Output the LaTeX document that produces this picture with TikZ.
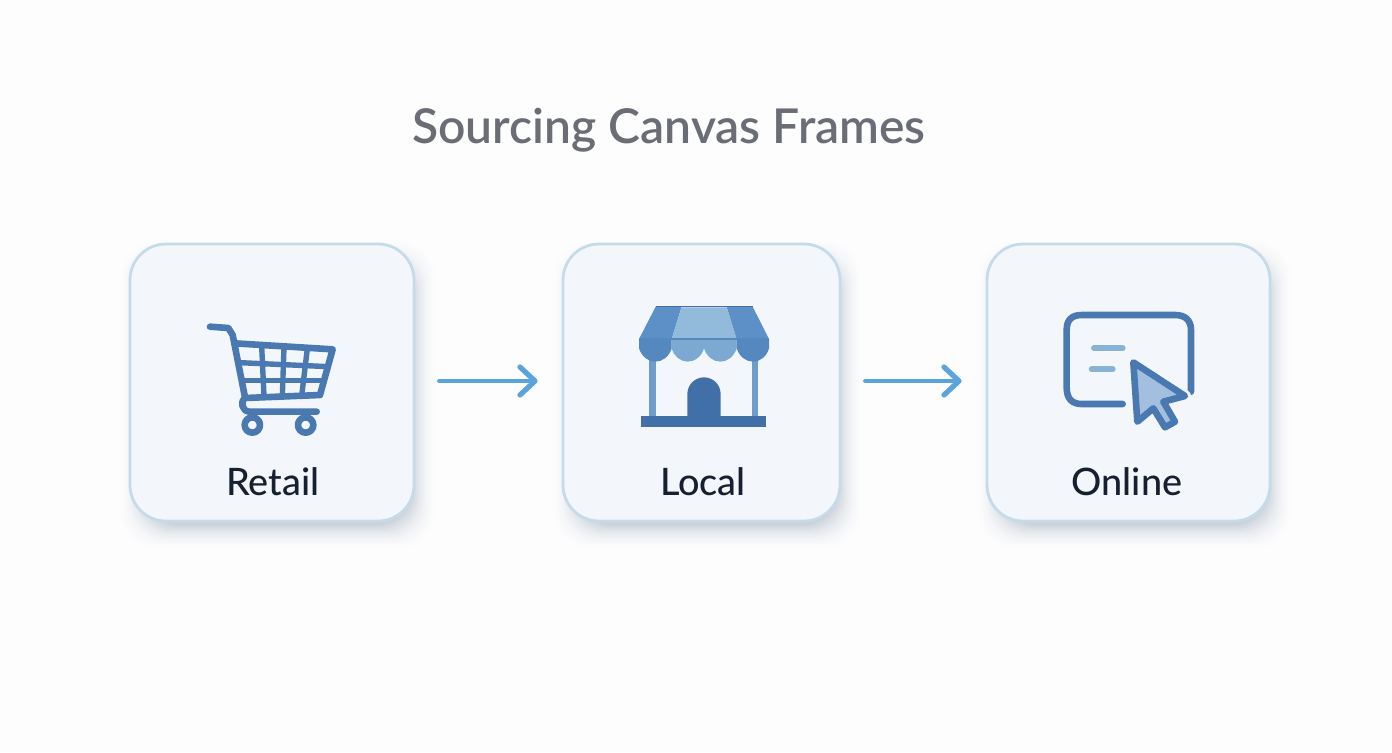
\documentclass[tikz,border=0pt]{standalone}
\usepackage{fontspec}
\setmainfont{Lato Semibold}
\newfontfamily\labelfont{Lato Medium}
\usetikzlibrary{arrows.meta}
\definecolor{pagebg}{HTML}{FDFDFE}
\definecolor{shadowc}{HTML}{CBD2DB}
\definecolor{cardfill}{HTML}{F3F7FB}
\definecolor{cardedge}{HTML}{C6DBEA}
\definecolor{titlegray}{HTML}{6A6D75}
\definecolor{labeldark}{HTML}{172030}
\definecolor{flow}{HTML}{5BA3DB}
\definecolor{iconblue}{HTML}{4A78B0}
\definecolor{roofdark}{HTML}{5C90C6}
\definecolor{rooflight}{HTML}{92BBDB}
\definecolor{scdark}{HTML}{5488BE}
\definecolor{sclight}{HTML}{7CA9D1}
\definecolor{post}{HTML}{6C9DCB}
\definecolor{door}{HTML}{4170A9}
\definecolor{linelight}{HTML}{88B3D6}
\definecolor{cursorfill}{HTML}{A3BFE0}
\tikzset{
  cardbox/.style={draw=cardedge,fill=cardfill,line width=1.4pt,rounded corners=18pt,inner sep=0pt,minimum height=138.5pt},
  cardlabel/.style={text=labeldark,font=\labelfont\fontsize{18.9pt}{22pt}\selectfont,inner sep=0pt,anchor=base},
  flowarrow/.style={draw=flow,line width=2.3pt,line cap=round,shorten <=12pt,shorten >=12pt,-{Straight Barb[length=7.5pt,width=14pt,line width=2.6pt,round]}},
  iconline/.style={draw=iconblue,line width=3.3pt,line cap=round,line join=round},
  gridline/.style={draw=iconblue,line width=2.7pt,line cap=butt},
}
\newcommand{\softshadow}[4]{%
  \foreach \i in {24,23,...,0}{
    \pgfmathsetmacro{\mixp}{100*(1-\i/24)*(1-\i/24)}
    \pgfmathsetmacro{\spread}{\i*1.1-8}
    \fill[shadowc!\mixp!pagebg,rounded corners=18pt] (#1+6-\spread,#2+12-\spread) rectangle (#3+6+\spread,#4+12+\spread);
  }}
\begin{document}
\begin{tikzpicture}[x=0.5pt,y=-0.5pt]
\useasboundingbox (0,0) rectangle (1392,752);
\fill[pagebg] (0,0) rectangle (1392,752);

\node[text=titlegray,font=\fontsize{24pt}{28pt}\selectfont,inner sep=0pt,anchor=base] (title) at (669,143) {Sourcing Canvas Frames};

\softshadow{130}{244}{414}{521}
\softshadow{563}{244}{840}{521}
\softshadow{987}{244}{1270}{521}

\node[cardbox,minimum width=142pt] (retail) at (272,382.5) {};
\node[cardbox,minimum width=138.5pt] (local) at (701.5,382.5) {};
\node[cardbox,minimum width=141.5pt] (online) at (1128.5,382.5) {};

\node[cardlabel] (retaillabel) at (273,495) {Retail};
\node[cardlabel] (locallabel) at (703,495) {Local};
\node[cardlabel] (onlinelabel) at (1127,495) {Online};

\draw[flowarrow] ([yshift=0.75pt]retail.east) -- ([yshift=0.75pt]local.west);
\draw[flowarrow] ([yshift=0.75pt]local.east) -- ([yshift=0.75pt]online.west);

% cart
\begin{scope}[shift={(190,310)},scale=1/3]
  \draw[iconline] (60,50) -- (115,54) -- (128,75) -- (165,262) .. controls (150,275) and (155,305) .. (180,305) -- (380,305);
  \draw[iconline] (135,100) -- (428,118) -- (390,255) -- (165,264);
  \draw[gridline] (150,158) -- (417,170);
  \draw[gridline] (163,212) -- (402,212);
  \draw[gridline] (215,108) -- (222,258);
  \draw[gridline] (282,112) -- (277,258);
  \draw[gridline] (352,116) -- (335,258);
  \draw[iconline] (187,345) circle[radius=23];
  \draw[iconline] (347,345) circle[radius=23];
\end{scope}

% store
\begin{scope}[shift={(625,295)},scale=1/3]
  \fill[post] (73,190) rectangle (92,365);
  \fill[post] (382,190) rectangle (400,365);
  \fill[door] (187,365) -- (187,297) arc[start angle=180,end angle=360,x radius=50,y radius=50] -- (287,365) -- cycle;
  \fill[door] (47,363) rectangle (423,396);
  \fill[roofdark] (92,35) -- (170,35) -- (140,132) -- (42,132) -- cycle;
  \fill[rooflight] (170,37) -- (305,37) -- (335,132) -- (140,132) -- cycle;
  \fill[roofdark] (305,35) -- (383,35) -- (432,132) -- (335,132) -- cycle;
  \draw[door,line width=0.7pt] (92,35) -- (383,35);
  \fill[scdark] (42,132) -- (42,160) .. controls (50,185) and (70,200) .. (91,200) .. controls (112,200) and (132,185) .. (140,160) -- (140,132) -- cycle;
  \fill[sclight] (140,132) -- (140,160) .. controls (148,185) and (168,200) .. (188,200) .. controls (208,200) and (230,185) .. (237,160) -- (237,132) -- cycle;
  \fill[sclight] (237,132) -- (237,160) .. controls (245,185) and (265,200) .. (286,200) .. controls (307,200) and (327,185) .. (335,160) -- (335,132) -- cycle;
  \fill[scdark] (335,132) -- (335,160) .. controls (343,185) and (363,200) .. (384,200) .. controls (405,200) and (425,185) .. (432,160) -- (432,132) -- cycle;
  \draw[scdark,line width=0.7pt] (42,132) -- (432,132);
\end{scope}

% online
\begin{scope}[shift={(1050,300)},scale=1/3]
  \draw[iconline] (423,275) -- (423,90) .. controls (423,60) and (405,45) .. (375,45) -- (95,45) .. controls (65,45) and (50,60) .. (50,90) -- (50,262) .. controls (50,295) and (65,312) .. (95,312) -- (218,312);
  \draw[linelight,line width=3pt,line cap=round] (132,145) -- (218,145);
  \draw[linelight,line width=3pt,line cap=round] (125,208) -- (188,208);
  \draw[cardfill,line width=6pt,line join=round] (250,187) -- (405,288) -- (340,305) -- (375,365) -- (345,382) -- (310,325) -- (262,365) -- cycle;
  \draw[iconline,fill=cursorfill] (250,187) -- (405,288) -- (340,305) -- (375,365) -- (345,382) -- (310,325) -- (262,365) -- cycle;
\end{scope}
\end{tikzpicture}
\end{document}
